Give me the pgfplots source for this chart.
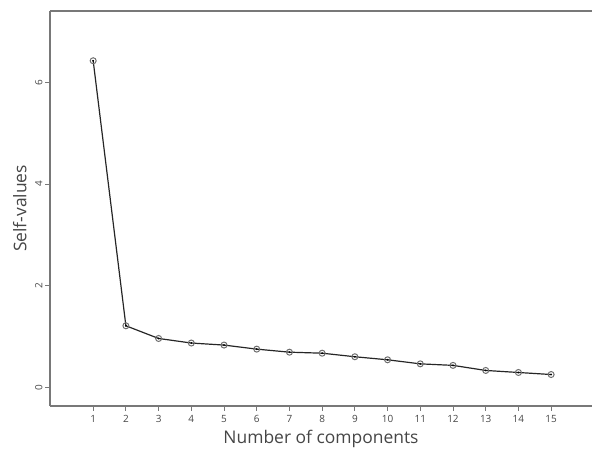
\documentclass[border=0pt]{standalone}
\usepackage{pgfplots}
\pgfplotsset{compat=1.18}
\usepackage{fontspec}
\setmainfont{Open Sans}
\definecolor{spine}{RGB}{120,120,120}
\definecolor{txt}{RGB}{70,70,70}
\definecolor{ring}{RGB}{110,110,110}

\pgfplotstableread{
k ev
1 6.43
2 1.21
3 0.96
4 0.87
5 0.83
6 0.75
7 0.69
8 0.67
9 0.60
10 0.54
11 0.46
12 0.43
13 0.33
14 0.29
15 0.25
}\eigvals

\begin{document}
\begin{tikzpicture}[x=1bp,y=1bp]
\useasboundingbox (0,0) rectangle (592,450);
\begin{axis}[
    anchor=south west, at={(50bp,44bp)},
    scale only axis,
    width=542bp, height=395bp,
    xmin=-0.32, xmax=16.25,
    ymin=-0.37, ymax=7.41,
    axis lines*=left,
    axis line style={spine, line width=1.3pt, -},
    xtick={1,...,15},
    ytick={0,2,4,6},
    tick align=outside,
    tick style={spine, line width=0.9pt},
    major tick length=5bp,
    tick label style={font=\fontsize{10}{11}\selectfont, text=txt},
    yticklabel style={rotate=90, anchor=south, yshift=-1bp},
    xticklabel style={yshift=-1bp},
    /pgf/number format/assume math mode=true,
    xlabel={Number of components},
    ylabel={Self-values},
    label style={font=\fontsize{17.5}{18}\selectfont, text=txt},
    xlabel style={at={(axis description cs:0.5,0)}, yshift=-21bp, anchor=north},
    ylabel style={at={(axis description cs:0,0.5)}, yshift=20bp, anchor=south},
    clip=false,
]
\addplot[draw=black!85, line width=1.2pt, mark=o, mark size=3bp,
    mark options={draw=ring, line width=1pt, fill=black!8}] table[x=k, y=ev] {\eigvals};
\addplot[only marks, mark=*, mark size=0.7bp, black] table[x=k, y=ev] {\eigvals};
\draw[spine, line width=1.3pt] (rel axis cs:0,1) -- (rel axis cs:1,1);
\end{axis}
\end{tikzpicture}
\end{document}
